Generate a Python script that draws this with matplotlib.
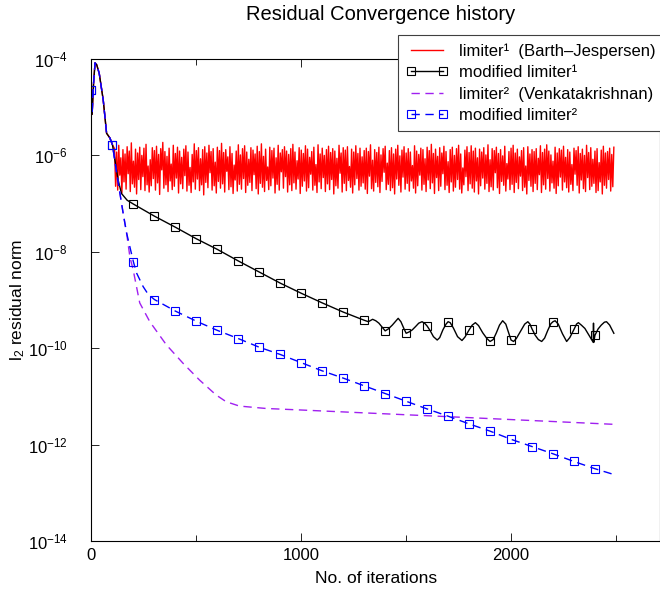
import matplotlib
matplotlib.use("Agg")
import matplotlib.pyplot as plt
import numpy as np

plt.rcParams['font.family'] = ['Liberation Sans', 'DejaVu Sans']
plt.rcParams['mathtext.fontset'] = 'custom'
plt.rcParams['mathtext.rm'] = 'Liberation Sans'
plt.rcParams['mathtext.it'] = 'Liberation Sans'
plt.rcParams['mathtext.bf'] = 'Liberation Sans'

# shared start-up transient (iteration, log10 residual)
early_it = [0, 3, 10, 17, 25, 37, 56, 72, 88, 100]
early_log = [-4.64, -5.15, -4.50, -4.08, -4.12, -4.30, -4.85, -5.54, -5.64, -5.78]

# limiter 1 (Barth-Jespersen): stalls and oscillates, one sample every 5 iterations from 110
bj_start, bj_step = 110, 5
bj_log = [
    -5.86, -6.64, -5.93, -6.72, -5.79, -6.41, -6.05, -6.78, -5.88, -6.55,
    -5.97, -6.70, -5.82, -6.38, -5.91, -6.75, -5.74, -6.59, -6.12, -6.66,
    -5.87, -6.80, -5.95, -6.50, -5.83, -6.71, -6.00, -6.44, -5.85, -6.73,
    -5.77, -6.61, -6.22, -6.76, -6.09, -6.63, -5.84, -6.48, -5.90, -6.72,
    -5.81, -6.57, -5.98, -6.81, -5.86, -6.30, -5.73, -6.68, -5.92, -6.61,
    -6.02, -6.75, -5.85, -6.53, -6.18, -6.71, -5.79, -6.64, -5.96, -6.47,
    -5.83, -6.78, -5.91, -6.59, -6.04, -6.69, -5.87, -6.42, -5.80, -6.74,
    -5.93, -6.62, -6.25, -6.77, -5.98, -6.55, -5.76, -6.70, -5.90, -6.49,
    -5.84, -6.73, -6.07, -6.61, -5.88, -6.82, -5.82, -6.56, -5.95, -6.67,
    -5.79, -6.36, -5.92, -6.72, -5.86, -6.63, -6.14, -6.78, -5.83, -6.54,
    -5.90, -6.68, -5.75, -6.59, -5.94, -6.76, -5.88, -6.33, -6.03, -6.71,
    -5.82, -6.65, -5.96, -6.79, -6.20, -6.51, -5.91, -6.74, -5.78, -6.60,
    -5.99, -6.70, -5.86, -6.48, -5.80, -6.77, -5.93, -6.62, -6.08, -6.56,
    -5.84, -6.73, -5.89, -6.40, -5.97, -6.69, -5.81, -6.80, -5.92, -6.58,
    -5.76, -6.66, -6.02, -6.75, -5.87, -6.52, -6.24, -6.71, -5.83, -6.63,
    -5.90, -6.47, -5.85, -6.78, -6.05, -6.60, -5.79, -6.72, -5.95, -6.34,
    -5.88, -6.68, -5.82, -6.44, -5.91, -6.76, -5.98, -6.61, -5.86, -6.73,
    -5.77, -6.57, -5.93, -6.70, -6.11, -6.49, -5.84, -6.79, -5.89, -6.64,
    -5.96, -6.53, -5.80, -6.74, -5.87, -6.67, -6.04, -6.39, -5.92, -6.72,
    -5.83, -6.62, -6.19, -6.77, -5.78, -6.55, -5.97, -6.69, -5.85, -6.46,
    -6.00, -6.75, -5.88, -6.59, -5.81, -6.71, -5.94, -6.50, -5.86, -6.80,
    -5.91, -6.63, -6.06, -6.68, -5.79, -6.37, -5.95, -6.76, -5.84, -6.58,
    -5.89, -6.73, -5.82, -6.52, -6.23, -6.66, -5.87, -6.78, -5.93, -6.61,
    -5.80, -6.48, -5.96, -6.72, -5.85, -6.64, -6.03, -6.57, -5.90, -6.70,
    -5.85, -6.79, -5.92, -6.43, -5.78, -6.69, -6.10, -6.74, -5.88, -6.56,
    -5.94, -6.65, -5.83, -6.77, -5.99, -6.54, -5.86, -6.35, -5.81, -6.71,
    -6.16, -6.60, -5.90, -6.73, -5.84, -6.67, -5.97, -6.80, -5.87, -6.49,
    -5.79, -6.62, -6.01, -6.76, -5.89, -6.45, -5.82, -6.70, -5.95, -6.58,
    -5.86, -6.74, -5.93, -6.53, -6.21, -6.68, -5.80, -6.78, -5.91, -6.63,
    -5.98, -6.41, -5.85, -6.72, -5.88, -6.60, -6.07, -6.75, -5.83, -6.51,
    -5.90, -6.69, -5.77, -6.57, -5.96, -6.79, -5.87, -6.46, -6.02, -6.73,
    -5.84, -6.64, -5.95, -6.38, -5.81, -6.71, -5.92, -6.62, -6.13, -6.77,
    -5.88, -6.55, -5.83, -6.74, -6.00, -6.66, -5.86, -6.50, -5.79, -6.70,
    -5.97, -6.78, -6.26, -6.61, -5.89, -6.44, -5.82, -6.73, -5.94, -6.59,
    -5.80, -6.68, -5.91, -6.76, -5.85, -6.53, -6.05, -6.80, -5.87, -6.63,
    -5.93, -6.47, -5.84, -6.70, -5.99, -6.58, -5.78, -6.75, -6.09, -6.65,
    -5.86, -6.72, -5.90, -6.36, -5.83, -6.67, -5.96, -6.79, -5.88, -6.54,
    -6.01, -6.62, -5.81, -6.74, -6.17, -6.49, -5.92, -6.71, -5.85, -6.60,
    -5.79, -6.77, -5.95, -6.56, -5.87, -6.69, -6.03, -6.43, -5.90, -6.73,
    -5.84, -6.66, -6.22, -6.80, -5.82, -6.52, -5.97, -6.64, -5.88, -6.75,
    -5.92, -6.58, -5.86, -6.71, -6.06, -6.40, -5.80, -6.77, -5.94, -6.61,
    -5.87, -6.70, -5.78, -6.48, -5.91, -6.74, -5.99, -6.57, -6.12, -6.68,
    -5.83, -6.79, -5.95, -6.63, -5.86, -6.45, -5.89, -6.72, -5.81, -6.55,
    -6.04, -6.67, -5.88, -6.76, -5.93, -6.60, -6.19, -6.73, -5.85, -6.39,
    -5.90, -6.62, -5.82, -6.78, -5.96, -6.51, -5.87, -6.69, -6.00, -6.75,
    -5.79, -6.46, -5.94, -6.71, -5.84, -6.64, -6.08, -6.58, -5.91, -6.77,
    -5.86, -6.73, -6.15, -6.55, -5.89, -6.80, -5.81, -6.62, -5.95, -6.68,
    -5.92, -6.50, -5.85, -6.74, -5.98, -6.65, -5.83,
]

# modified limiter 1
m1_it = [112, 127, 143, 170, 200, 300, 400, 500, 600, 700, 800, 900, 1000,
         1100, 1200, 1300, 1320, 1340, 1355, 1370, 1385, 1400, 1415, 1434,
         1450, 1462, 1475, 1490, 1500, 1515, 1529, 1545, 1560, 1576, 1590,
         1600, 1615, 1630, 1648, 1660, 1675, 1690, 1700, 1710, 1725, 1745,
         1766, 1780, 1800, 1815, 1830, 1845, 1865, 1885, 1900, 1915, 1930,
         1945, 1960, 1975, 1990, 2000, 2012, 2025, 2045, 2065, 2080, 2090,
         2100, 2115, 2130, 2146, 2160, 2175, 2190, 2200, 2210, 2225, 2245,
         2265, 2280, 2300, 2312, 2321, 2335, 2352, 2370, 2392, 2393, 2394,
         2400, 2415, 2430, 2445, 2455, 2470, 2490]
m1_log = [-6.10, -6.51, -6.79, -6.93, -7.01, -7.26, -7.49, -7.73, -7.95,
          -8.19, -8.42, -8.65, -8.86, -9.06, -9.25, -9.42, -9.45, -9.40,
          -9.43, -9.48, -9.56, -9.64, -9.60, -9.52, -9.44, -9.38, -9.45,
          -9.60, -9.69, -9.66, -9.62, -9.55, -9.48, -9.45, -9.49, -9.54,
          -9.64, -9.76, -9.83, -9.78, -9.62, -9.50, -9.45, -9.47, -9.58,
          -9.76, -9.84, -9.77, -9.62, -9.52, -9.47, -9.53, -9.68, -9.80,
          -9.86, -9.82, -9.68, -9.52, -9.43, -9.50, -9.70, -9.83, -9.86,
          -9.80, -9.65, -9.50, -9.45, -9.50, -9.60, -9.73, -9.82, -9.86,
          -9.79, -9.63, -9.49, -9.45, -9.43, -9.50, -9.70, -9.86, -9.78,
          -9.61, -9.50, -9.47, -9.52, -9.59, -9.72, -9.88, -9.48, -9.88,
          -9.73, -9.60, -9.52, -9.46, -9.45, -9.52, -9.69]

# limiter 2 (Venkatakrishnan)
vk_it = [120, 151, 167, 183, 199, 230, 278, 357, 436, 515, 594, 642, 705,
         832, 990, 1750, 2495]
vk_log = [-6.37, -7.20, -7.60, -8.10, -8.38, -9.06, -9.45, -9.93, -10.31,
          -10.66, -10.97, -11.11, -11.20, -11.25, -11.28, -11.43, -11.58]

# modified limiter 2
m2_it = [120, 151, 167, 200, 215, 246, 270, 300, 400, 500, 600, 700, 800,
         900, 1000, 1100, 1200, 1300, 1400, 1500, 1600, 1700, 1800, 1900,
         2000, 2100, 2200, 2300, 2400, 2490]
m2_log = [-6.37, -7.20, -7.60, -8.21, -8.44, -8.72, -8.88, -8.99, -9.23,
          -9.44, -9.63, -9.80, -9.98, -10.13, -10.30, -10.47, -10.62, -10.78,
          -10.94, -11.10, -11.26, -11.41, -11.57, -11.72, -11.89, -12.04,
          -12.19, -12.35, -12.50, -12.62]

bj_it = early_it + list(range(bj_start, bj_start + bj_step * len(bj_log), bj_step))
bj_res = 10.0 ** np.array(early_log + bj_log)
m1_x = early_it + m1_it
m1_res = 10.0 ** np.array(early_log + m1_log)
vk_x = early_it + vk_it
vk_res = 10.0 ** np.array(early_log + vk_log)
m2_x = early_it + m2_it
m2_res = 10.0 ** np.array(early_log + m2_log)

m1_marks = [i for i, v in enumerate(m1_x) if v % 100 == 0]
m2_marks = [i for i, v in enumerate(m2_x) if v % 100 == 0]

fig = plt.figure(figsize=(6.6, 5.9), dpi=100)
ax = fig.add_axes([0.1386, 0.083, 0.8614, 0.817])

ax.plot(bj_it, bj_res, color='#ff0000', lw=1.0, label='limiter¹  (Barth–Jespersen)')
ax.plot(m1_x, m1_res, color='black', lw=1.0, marker='s', ms=6, mfc='none',
        mec='black', mew=0.8, markevery=m1_marks, label='modified limiter¹')
ax.plot(vk_x, vk_res, color='#a020f0', lw=1.0, dashes=(6, 4),
        label='limiter²  (Venkatakrishnan)')
ax.plot(m2_x, m2_res, color='#0000ff', lw=1.0, dashes=(6, 4), marker='s', ms=6,
        mfc='none', mec='#0000ff', mew=0.8, markevery=m2_marks,
        label='modified limiter²')

ax.set_yscale('log')
ax.set_ylim(1e-14, 1e-4)
ax.set_xlim(0, 2710)
ax.set_yticks([1e-14, 1e-12, 1e-10, 1e-8, 1e-6, 1e-4])
ax.yaxis.set_minor_locator(matplotlib.ticker.NullLocator())
ax.set_xticks([0, 1000, 2000])
ax.set_xticks([500, 1500, 2500], minor=True)
ax.tick_params(which='both', direction='in', top=True, right=False)
ax.tick_params(axis='x', labelsize=12, pad=5)
ax.tick_params(axis='y', labelsize=12, pad=17)
ax.tick_params(which='major', length=6, width=0.6)
ax.tick_params(which='minor', length=4, width=0.6)
for s in ax.spines.values():
    s.set_linewidth(0.8)

ax.set_xlabel('No. of iterations', fontsize=12.5, labelpad=6)
ax.set_ylabel(r'l$_2$ residual norm', fontsize=12.5, labelpad=0.5)
fig.text(381 / 660, 1 - 15 / 590, 'Residual Convergence history', fontsize=14.5,
         ha='center', va='center')

leg = fig.legend(loc='upper left', bbox_to_anchor=(398 / 660, 1 - 35 / 590), fontsize=12,
                 frameon=True, fancybox=False, framealpha=1, edgecolor='#404040',
                 handlelength=2.5, handletextpad=0.65, labelspacing=0.38,
                 borderpad=0.5, numpoints=2, borderaxespad=0)
leg.get_frame().set_linewidth(0.8)

fig.savefig('out.png', dpi=100)
